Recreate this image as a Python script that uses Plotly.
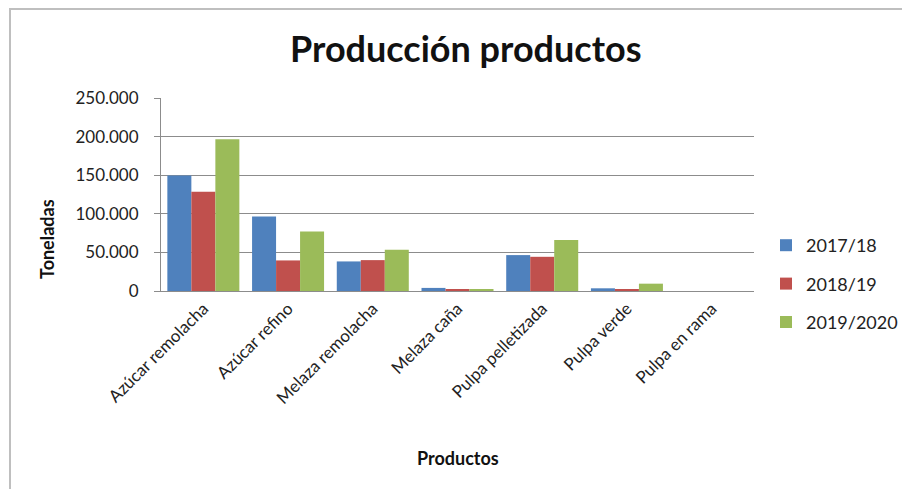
import plotly.graph_objects as go

categorias = ["Azúcar remolacha", "Azúcar refino", "Melaza remolacha", "Melaza caña",
              "Pulpa pelletizada", "Pulpa verde", "Pulpa en rama"]
campana_2017_18 = [149500, 96500, 38300, 4000, 46500, 3500, 0]
campana_2018_19 = [128700, 39600, 40000, 2000, 44300, 1700, 0]
campana_2019_2020 = [196500, 77000, 53500, 2000, 66000, 9500, 0]
tick_vals = [0, 50000, 100000, 150000, 200000, 250000]
tick_text = ["0", "50.000", "100.000", "150.000", "200.000", "250.000"]

series = [
    ("2017/18", campana_2017_18, "#4F81BD"),
    ("2018/19", campana_2018_19, "#C0504D"),
    ("2019/2020", campana_2019_2020, "#9BBB59"),
]

FONT = "Lato, Open Sans, sans-serif"
OFF = 8  # page body margin
W, H = 910 - OFF, 489 - OFF
L, R, T, B = 161 - OFF, 910 - 754, 98 - OFF, 489 - 291
pw, ph = W - L - R, H - T - B

def px(x):  # page pixel -> paper
    return (x - OFF - L) / pw

def py(y):
    return (H - B - (y - OFF)) / ph

fig = go.Figure()
for i, (name, vals, col) in enumerate(series):
    fig.add_trace(go.Bar(x=categorias, y=vals, name=name, marker_color=col,
                         marker_line_width=0, legendgroup=str(i)))

fig.update_layout(
    width=W, height=H,
    margin=dict(l=L, r=R, t=T, b=B, autoexpand=False),
    paper_bgcolor="white", plot_bgcolor="white",
    barmode="group", bargap=0.15, bargroupgap=0,
    font=dict(family=FONT, color="#222", size=17),
    showlegend=True,
    legend=dict(x=px(766), y=py(227), xanchor="left", yanchor="top",
                font=dict(size=18, color="#222"), tracegroupgap=12,
                bgcolor="rgba(0,0,0,0)", itemwidth=30),
    xaxis=dict(tickangle=-45, showgrid=False, showline=True, linecolor="#8c8c8c",
               linewidth=1, ticks="", tickfont=dict(size=17, color="#222")),
    yaxis=dict(range=[0, 250000], tickvals=tick_vals, ticktext=tick_text,
               showgrid=True, gridcolor="#8c8c8c", gridwidth=1,
               showline=True, linecolor="#8c8c8c", linewidth=1,
               ticks="outside", ticklen=6, tickcolor="#8c8c8c",
               ticklabelstandoff=12,
               tickfont=dict(size=17, color="#222"), zeroline=False),
    annotations=[
        dict(text="<b>Producción productos</b>", x=px(465), y=py(48), xref="paper", yref="paper",
             showarrow=False, font=dict(size=36, color="#111"), xanchor="center", yanchor="middle"),
        dict(text="<b>Toneladas</b>", x=px(47), y=py(239), xref="paper", yref="paper",
             showarrow=False, textangle=-90, font=dict(size=18, color="#111"),
             xanchor="center", yanchor="middle"),
        dict(text="<b>Productos</b>", x=px(458), y=py(458), xref="paper", yref="paper",
             showarrow=False, font=dict(size=18, color="#111"), xanchor="center", yanchor="middle"),
    ],
    shapes=[
        dict(type="rect", xref="paper", yref="paper", x0=px(10), x1=px(960), y0=py(540), y1=py(9),
             line=dict(color="#bfbfbf", width=2), fillcolor="rgba(0,0,0,0)", layer="below"),
    ],
)

fig.write_html("out.html")
